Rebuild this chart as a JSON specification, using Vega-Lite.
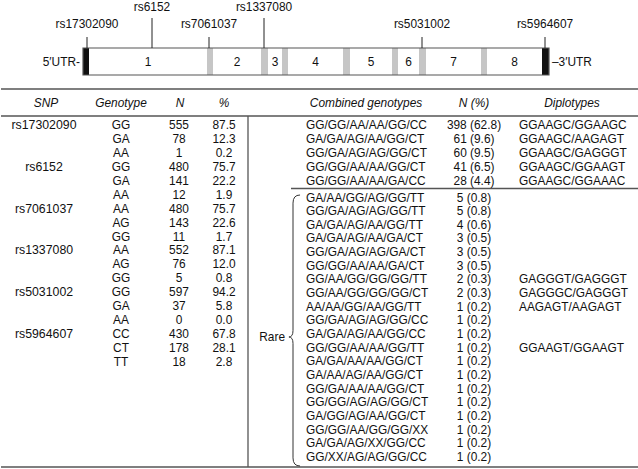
{
  "$schema": "https://vega.github.io/schema/vega-lite/v6.json",
  "width": 638,
  "height": 469,
  "autosize": {"type": "fit", "contains": "padding"},
  "padding": 0,
  "background": "white",
  "config": {
    "view": {"stroke": null},
    "text": {"font": "Liberation Sans", "fontSize": 11.9, "color": "#111111"},
    "rule": {"stroke": "#555555", "strokeWidth": 1.3}
  },
  "datasets": {
    "segments": [
      {"part": "5′UTR", "kind": "UTR", "label": "5′UTR-", "start": 0, "end": 6},
      {"part": "Exon 1", "kind": "exon", "label": "1", "start": 6, "end": 124},
      {"part": "Intron 1", "kind": "intron", "label": "", "start": 124, "end": 130},
      {"part": "Exon 2", "kind": "exon", "label": "2", "start": 130, "end": 178},
      {"part": "Intron 2", "kind": "intron", "label": "", "start": 178, "end": 185},
      {"part": "Exon 3", "kind": "exon", "label": "3", "start": 185, "end": 199},
      {"part": "Intron 3", "kind": "intron", "label": "", "start": 199, "end": 205},
      {"part": "Exon 4", "kind": "exon", "label": "4", "start": 205, "end": 260},
      {"part": "Intron 4", "kind": "intron", "label": "", "start": 260, "end": 267},
      {"part": "Exon 5", "kind": "exon", "label": "5", "start": 267, "end": 309},
      {"part": "Intron 5", "kind": "intron", "label": "", "start": 309, "end": 315},
      {"part": "Exon 6", "kind": "exon", "label": "6", "start": 315, "end": 336},
      {"part": "Intron 6", "kind": "intron", "label": "", "start": 336, "end": 343},
      {"part": "Exon 7", "kind": "exon", "label": "7", "start": 343, "end": 398},
      {"part": "Intron 7", "kind": "intron", "label": "", "start": 398, "end": 404},
      {"part": "Exon 8", "kind": "exon", "label": "8", "start": 404, "end": 459},
      {"part": "3′UTR", "kind": "UTR", "label": "–3′UTR", "start": 459, "end": 466}
    ],
    "snps": [
      {"snp": "rs17302090", "pos": 4, "tier": 1},
      {"snp": "rs6152", "pos": 69, "tier": 2},
      {"snp": "rs7061037", "pos": 126, "tier": 1},
      {"snp": "rs1337080", "pos": 181, "tier": 2},
      {"snp": "rs5031002", "pos": 339, "tier": 1},
      {"snp": "rs5964607", "pos": 462, "tier": 1}
    ],
    "headers": [
      {"header": "SNP", "col": 0},
      {"header": "Genotype", "col": 1},
      {"header": "N", "col": 2},
      {"header": "%", "col": 3},
      {"header": "Combined genotypes", "col": 4},
      {"header": "N (%)", "col": 5},
      {"header": "Diplotypes", "col": 6}
    ],
    "genotypes": [
      {"snp": "rs17302090", "genotype": "GG", "n": 555, "pct": 87.5},
      {"snp": "rs17302090", "genotype": "GA", "n": 78, "pct": 12.3},
      {"snp": "rs17302090", "genotype": "AA", "n": 1, "pct": 0.2},
      {"snp": "rs6152", "genotype": "GG", "n": 480, "pct": 75.7},
      {"snp": "rs6152", "genotype": "GA", "n": 141, "pct": 22.2},
      {"snp": "rs6152", "genotype": "AA", "n": 12, "pct": 1.9},
      {"snp": "rs7061037", "genotype": "AA", "n": 480, "pct": 75.7},
      {"snp": "rs7061037", "genotype": "AG", "n": 143, "pct": 22.6},
      {"snp": "rs7061037", "genotype": "GG", "n": 11, "pct": 1.7},
      {"snp": "rs1337080", "genotype": "AA", "n": 552, "pct": 87.1},
      {"snp": "rs1337080", "genotype": "AG", "n": 76, "pct": 12.0},
      {"snp": "rs1337080", "genotype": "GG", "n": 5, "pct": 0.8},
      {"snp": "rs5031002", "genotype": "GG", "n": 597, "pct": 94.2},
      {"snp": "rs5031002", "genotype": "GA", "n": 37, "pct": 5.8},
      {"snp": "rs5031002", "genotype": "AA", "n": 0, "pct": 0.0},
      {"snp": "rs5964607", "genotype": "CC", "n": 430, "pct": 67.8},
      {"snp": "rs5964607", "genotype": "CT", "n": 178, "pct": 28.1},
      {"snp": "rs5964607", "genotype": "TT", "n": 18, "pct": 2.8}
    ],
    "combined": [
      {"group": "Common", "combo": "GG/GG/AA/AA/GG/CC", "n": 398, "pct": 62.8, "diplo": "GGAAGC/GGAAGC"},
      {"group": "Common", "combo": "GA/GA/AG/AA/GG/CT", "n": 61, "pct": 9.6, "diplo": "GGAAGC/AAGAGT"},
      {"group": "Common", "combo": "GG/GA/AG/AG/GG/CT", "n": 60, "pct": 9.5, "diplo": "GGAAGC/GAGGGT"},
      {"group": "Common", "combo": "GG/GG/AA/AA/GG/CT", "n": 41, "pct": 6.5, "diplo": "GGAAGC/GGAAGT"},
      {"group": "Common", "combo": "GG/GG/AA/AA/GA/CC", "n": 28, "pct": 4.4, "diplo": "GGAAGC/GGAAAC"},
      {"group": "Rare", "combo": "GA/AA/GG/AG/GG/TT", "n": 5, "pct": 0.8, "diplo": ""},
      {"group": "Rare", "combo": "GG/GA/AG/AG/GG/TT", "n": 5, "pct": 0.8, "diplo": ""},
      {"group": "Rare", "combo": "GA/GA/AG/AA/GG/TT", "n": 4, "pct": 0.6, "diplo": ""},
      {"group": "Rare", "combo": "GA/GA/AG/AA/GA/CT", "n": 3, "pct": 0.5, "diplo": ""},
      {"group": "Rare", "combo": "GG/GA/AG/AG/GA/CT", "n": 3, "pct": 0.5, "diplo": ""},
      {"group": "Rare", "combo": "GG/GG/AA/AA/GA/CT", "n": 3, "pct": 0.5, "diplo": ""},
      {"group": "Rare", "combo": "GG/AA/GG/GG/GG/TT", "n": 2, "pct": 0.3, "diplo": "GAGGGT/GAGGGT"},
      {"group": "Rare", "combo": "GG/AA/GG/GG/GG/CT", "n": 2, "pct": 0.3, "diplo": "GAGGGC/GAGGGT"},
      {"group": "Rare", "combo": "AA/AA/GG/AA/GG/TT", "n": 1, "pct": 0.2, "diplo": "AAGAGT/AAGAGT"},
      {"group": "Rare", "combo": "GG/GA/AG/AG/GG/CC", "n": 1, "pct": 0.2, "diplo": ""},
      {"group": "Rare", "combo": "GA/GA/AG/AA/GG/CC", "n": 1, "pct": 0.2, "diplo": ""},
      {"group": "Rare", "combo": "GG/GG/AA/AA/GG/TT", "n": 1, "pct": 0.2, "diplo": "GGAAGT/GGAAGT"},
      {"group": "Rare", "combo": "GA/GA/AA/AA/GG/CT", "n": 1, "pct": 0.2, "diplo": ""},
      {"group": "Rare", "combo": "GA/AA/AG/AA/GG/CT", "n": 1, "pct": 0.2, "diplo": ""},
      {"group": "Rare", "combo": "GG/GA/AA/AA/GG/CT", "n": 1, "pct": 0.2, "diplo": ""},
      {"group": "Rare", "combo": "GG/GG/AG/AG/GG/CT", "n": 1, "pct": 0.2, "diplo": ""},
      {"group": "Rare", "combo": "GA/GG/AG/AA/GG/CT", "n": 1, "pct": 0.2, "diplo": ""},
      {"group": "Rare", "combo": "GG/GG/AA/GG/GG/XX", "n": 1, "pct": 0.2, "diplo": ""},
      {"group": "Rare", "combo": "GA/GA/AG/XX/GG/CC", "n": 1, "pct": 0.2, "diplo": ""},
      {"group": "Rare", "combo": "GG/XX/AG/AG/GG/CC", "n": 1, "pct": 0.2, "diplo": ""}
    ]
  },
  "layer": [
    {
      "data": {"name": "segments"},
      "mark": {"type": "rect"},
      "encoding": {
        "x": {"field": "start", "type": "quantitative", "scale": {"domain": [0, 466], "range": [82, 548], "nice": false, "zero": false}, "axis": null},
        "x2": {"field": "end"},
        "y": {"datum": 1, "type": "quantitative", "scale": {"domain": [0, 1], "range": [75, 48], "nice": false, "zero": false}, "axis": null},
        "y2": {"datum": 0},
        "fill": {"field": "kind", "type": "nominal", "scale": {"domain": ["UTR", "exon", "intron"], "range": ["#111111", "#ffffff", "#c6c6c6"]}, "legend": null}
      }
    },
    {
      "data": {"values": [{"gene": "AR"}]},
      "mark": {"type": "rect", "fill": null, "fillOpacity": 0, "stroke": "#555555", "strokeWidth": 1.2},
      "encoding": {
        "x": {"datum": 0, "type": "quantitative", "scale": {"domain": [0, 466], "range": [82, 548], "nice": false, "zero": false}, "axis": null},
        "x2": {"datum": 466},
        "y": {"datum": 1, "type": "quantitative", "scale": {"domain": [0, 1], "range": [75, 48], "nice": false, "zero": false}, "axis": null},
        "y2": {"datum": 0}
      }
    },
    {
      "data": {"name": "segments"},
      "transform": [{"filter": "datum.kind === 'exon'"}, {"calculate": "(datum.start + datum.end) / 2", "as": "mid"}],
      "mark": {"type": "text", "align": "center", "baseline": "middle"},
      "encoding": {
        "x": {"field": "mid", "type": "quantitative", "scale": {"domain": [0, 466], "range": [82, 548], "nice": false, "zero": false}, "axis": null},
        "y": {"datum": 0.5, "type": "quantitative", "scale": {"domain": [0, 1], "range": [75, 48], "nice": false, "zero": false}, "axis": null},
        "text": {"field": "label"}
      }
    },
    {
      "data": {"name": "segments"},
      "transform": [{"filter": "datum.part === '5′UTR'"}],
      "mark": {"type": "text", "align": "right", "baseline": "middle", "dx": -3},
      "encoding": {
        "x": {"field": "start", "type": "quantitative", "scale": {"domain": [0, 466], "range": [82, 548], "nice": false, "zero": false}, "axis": null},
        "y": {"datum": 0.5, "type": "quantitative", "scale": {"domain": [0, 1], "range": [75, 48], "nice": false, "zero": false}, "axis": null},
        "text": {"field": "label"}
      }
    },
    {
      "data": {"name": "segments"},
      "transform": [{"filter": "datum.part === '3′UTR'"}],
      "mark": {"type": "text", "align": "left", "baseline": "middle", "dx": 3},
      "encoding": {
        "x": {"field": "end", "type": "quantitative", "scale": {"domain": [0, 466], "range": [82, 548], "nice": false, "zero": false}, "axis": null},
        "y": {"datum": 0.5, "type": "quantitative", "scale": {"domain": [0, 1], "range": [75, 48], "nice": false, "zero": false}, "axis": null},
        "text": {"field": "label"}
      }
    },
    {
      "data": {"name": "snps"},
      "mark": {"type": "rule", "stroke": "#222222", "strokeWidth": 1},
      "encoding": {
        "x": {"field": "pos", "type": "quantitative", "scale": {"domain": [0, 466], "range": [82, 548], "nice": false, "zero": false}, "axis": null},
        "y": {"field": "tier", "type": "quantitative", "scale": {"domain": [0, 1, 2], "range": [48, 37, 18], "nice": false, "zero": false}, "axis": null},
        "y2": {"datum": 0}
      }
    },
    {
      "data": {"name": "snps"},
      "mark": {"type": "text", "align": "center", "baseline": "middle"},
      "encoding": {
        "x": {"field": "pos", "type": "quantitative", "scale": {"domain": [0, 466], "range": [82, 548], "nice": false, "zero": false}, "axis": null},
        "y": {"field": "tier", "type": "quantitative", "scale": {"domain": [1, 2], "range": [24, 7], "nice": false, "zero": false}, "axis": null},
        "text": {"field": "snp"}
      }
    },
    {
      "data": {"values": [{"line": "top"}]},
      "mark": {"type": "rule"},
      "encoding": {
        "x": {"datum": 0, "type": "quantitative", "scale": {"domain": [0, 638], "range": [0, 638], "nice": false, "zero": false}, "axis": null},
        "x2": {"datum": 638},
        "y": {"datum": 89, "type": "quantitative", "scale": {"domain": [0, 469], "range": [0, 469], "nice": false, "zero": false}, "axis": null}
      }
    },
    {
      "data": {"values": [{"line": "header"}]},
      "mark": {"type": "rule"},
      "encoding": {
        "x": {"datum": 0, "type": "quantitative", "scale": {"domain": [0, 638], "range": [0, 638], "nice": false, "zero": false}, "axis": null},
        "x2": {"datum": 638},
        "y": {"datum": 116, "type": "quantitative", "scale": {"domain": [0, 469], "range": [0, 469], "nice": false, "zero": false}, "axis": null}
      }
    },
    {
      "data": {"values": [{"line": "bottom"}]},
      "mark": {"type": "rule"},
      "encoding": {
        "x": {"datum": 0, "type": "quantitative", "scale": {"domain": [0, 638], "range": [0, 638], "nice": false, "zero": false}, "axis": null},
        "x2": {"datum": 638},
        "y": {"datum": 467, "type": "quantitative", "scale": {"domain": [0, 469], "range": [0, 469], "nice": false, "zero": false}, "axis": null}
      }
    },
    {
      "data": {"values": [{"line": "divider"}]},
      "mark": {"type": "rule"},
      "encoding": {
        "x": {"datum": 247, "type": "quantitative", "scale": {"domain": [0, 638], "range": [0, 638], "nice": false, "zero": false}, "axis": null},
        "y": {"datum": 116, "type": "quantitative", "scale": {"domain": [0, 469], "range": [0, 469], "nice": false, "zero": false}, "axis": null},
        "y2": {"datum": 467}
      }
    },
    {
      "data": {"values": [{"line": "rare"}]},
      "mark": {"type": "rule"},
      "encoding": {
        "x": {"datum": 290, "type": "quantitative", "scale": {"domain": [0, 638], "range": [0, 638], "nice": false, "zero": false}, "axis": null},
        "x2": {"datum": 638},
        "y": {"datum": 188.5, "type": "quantitative", "scale": {"domain": [0, 469], "range": [0, 469], "nice": false, "zero": false}, "axis": null}
      }
    },
    {
      "data": {"name": "headers"},
      "mark": {"type": "text", "align": "center", "baseline": "middle", "fontStyle": "italic"},
      "encoding": {
        "x": {"field": "col", "type": "quantitative", "scale": {"domain": [0, 1, 2, 3, 4, 5, 6], "range": [45, 120, 179, 223, 365, 473, 571], "nice": false, "zero": false}, "axis": null},
        "y": {"datum": 103, "type": "quantitative", "scale": {"domain": [0, 469], "range": [0, 469], "nice": false, "zero": false}, "axis": null},
        "text": {"field": "header"}
      }
    },
    {
      "data": {"name": "genotypes"},
      "transform": [{"window": [{"op": "row_number", "as": "row"}]}],
      "encoding": {
        "y": {"field": "row", "type": "quantitative", "scale": {"domain": [1, 18], "range": [125, 362], "nice": false, "zero": false}, "axis": null}
      },
      "layer": [
        {
          "transform": [{"window": [{"op": "row_number", "as": "k"}], "groupby": ["snp"]}, {"filter": "datum.k === 1"}],
          "mark": {"type": "text", "align": "center", "baseline": "middle", "fontSize": 12.3},
          "encoding": {
            "x": {"datum": 0, "type": "quantitative", "scale": {"domain": [0, 1, 2, 3], "range": [43, 120, 178, 223], "nice": false, "zero": false}, "axis": null},
            "text": {"field": "snp"}
          }
        },
        {
          "mark": {"type": "text", "align": "center", "baseline": "middle"},
          "encoding": {
            "x": {"datum": 1, "type": "quantitative", "scale": {"domain": [0, 1, 2, 3], "range": [43, 120, 178, 223], "nice": false, "zero": false}, "axis": null},
            "text": {"field": "genotype"}
          }
        },
        {
          "mark": {"type": "text", "align": "center", "baseline": "middle"},
          "encoding": {
            "x": {"datum": 2, "type": "quantitative", "scale": {"domain": [0, 1, 2, 3], "range": [43, 120, 178, 223], "nice": false, "zero": false}, "axis": null},
            "text": {"field": "n", "type": "quantitative", "format": "d"}
          }
        },
        {
          "mark": {"type": "text", "align": "center", "baseline": "middle"},
          "encoding": {
            "x": {"datum": 3, "type": "quantitative", "scale": {"domain": [0, 1, 2, 3], "range": [43, 120, 178, 223], "nice": false, "zero": false}, "axis": null},
            "text": {"field": "pct", "type": "quantitative", "format": ".1f"}
          }
        }
      ]
    },
    {
      "data": {"name": "combined"},
      "transform": [
        {"window": [{"op": "row_number", "as": "row"}]},
        {"calculate": "datum.n + ' (' + format(datum.pct, '.1f') + ')'", "as": "npct"}
      ],
      "encoding": {
        "y": {"field": "row", "type": "quantitative", "scale": {"domain": [1, 5, 6, 25], "range": [125, 181, 197.5, 457], "nice": false, "zero": false}, "axis": null}
      },
      "layer": [
        {
          "mark": {"type": "text", "align": "left", "baseline": "middle"},
          "encoding": {
            "x": {"datum": 0, "type": "quantitative", "scale": {"domain": [0, 1, 2], "range": [305, 473, 518], "nice": false, "zero": false}, "axis": null},
            "text": {"field": "combo"}
          }
        },
        {
          "mark": {"type": "text", "align": "center", "baseline": "middle"},
          "encoding": {
            "x": {"datum": 1, "type": "quantitative", "scale": {"domain": [0, 1, 2], "range": [305, 473, 518], "nice": false, "zero": false}, "axis": null},
            "text": {"field": "npct"}
          }
        },
        {
          "mark": {"type": "text", "align": "left", "baseline": "middle"},
          "encoding": {
            "x": {"datum": 2, "type": "quantitative", "scale": {"domain": [0, 1, 2], "range": [305, 473, 518], "nice": false, "zero": false}, "axis": null},
            "text": {"field": "diplo"}
          }
        }
      ]
    },
    {
      "data": {"values": [{"group": "Rare"}]},
      "mark": {"type": "point", "shape": "M0.052,-1 Q0,-1 0,-0.94 L0,0.0 Q0,0.048 -0.03,0.048 Q0,0.048 0,0.096 L0,0.94 Q0,1 0.052,1", "filled": false, "stroke": "#333333", "strokeWidth": 1, "opacity": 1, "size": 73441},
      "encoding": {
        "x": {"datum": 292, "type": "quantitative", "scale": {"domain": [0, 638], "range": [0, 638], "nice": false, "zero": false}, "axis": null},
        "y": {"datum": 330.5, "type": "quantitative", "scale": {"domain": [0, 469], "range": [0, 469], "nice": false, "zero": false}, "axis": null}
      }
    },
    {
      "data": {"values": [{"group": "Rare"}]},
      "mark": {"type": "text", "align": "right", "baseline": "middle"},
      "encoding": {
        "x": {"datum": 284, "type": "quantitative", "scale": {"domain": [0, 638], "range": [0, 638], "nice": false, "zero": false}, "axis": null},
        "y": {"datum": 337, "type": "quantitative", "scale": {"domain": [0, 469], "range": [0, 469], "nice": false, "zero": false}, "axis": null},
        "text": {"field": "group"}
      }
    }
  ],
  "resolve": {"scale": {"x": "independent", "y": "independent"}}
}
